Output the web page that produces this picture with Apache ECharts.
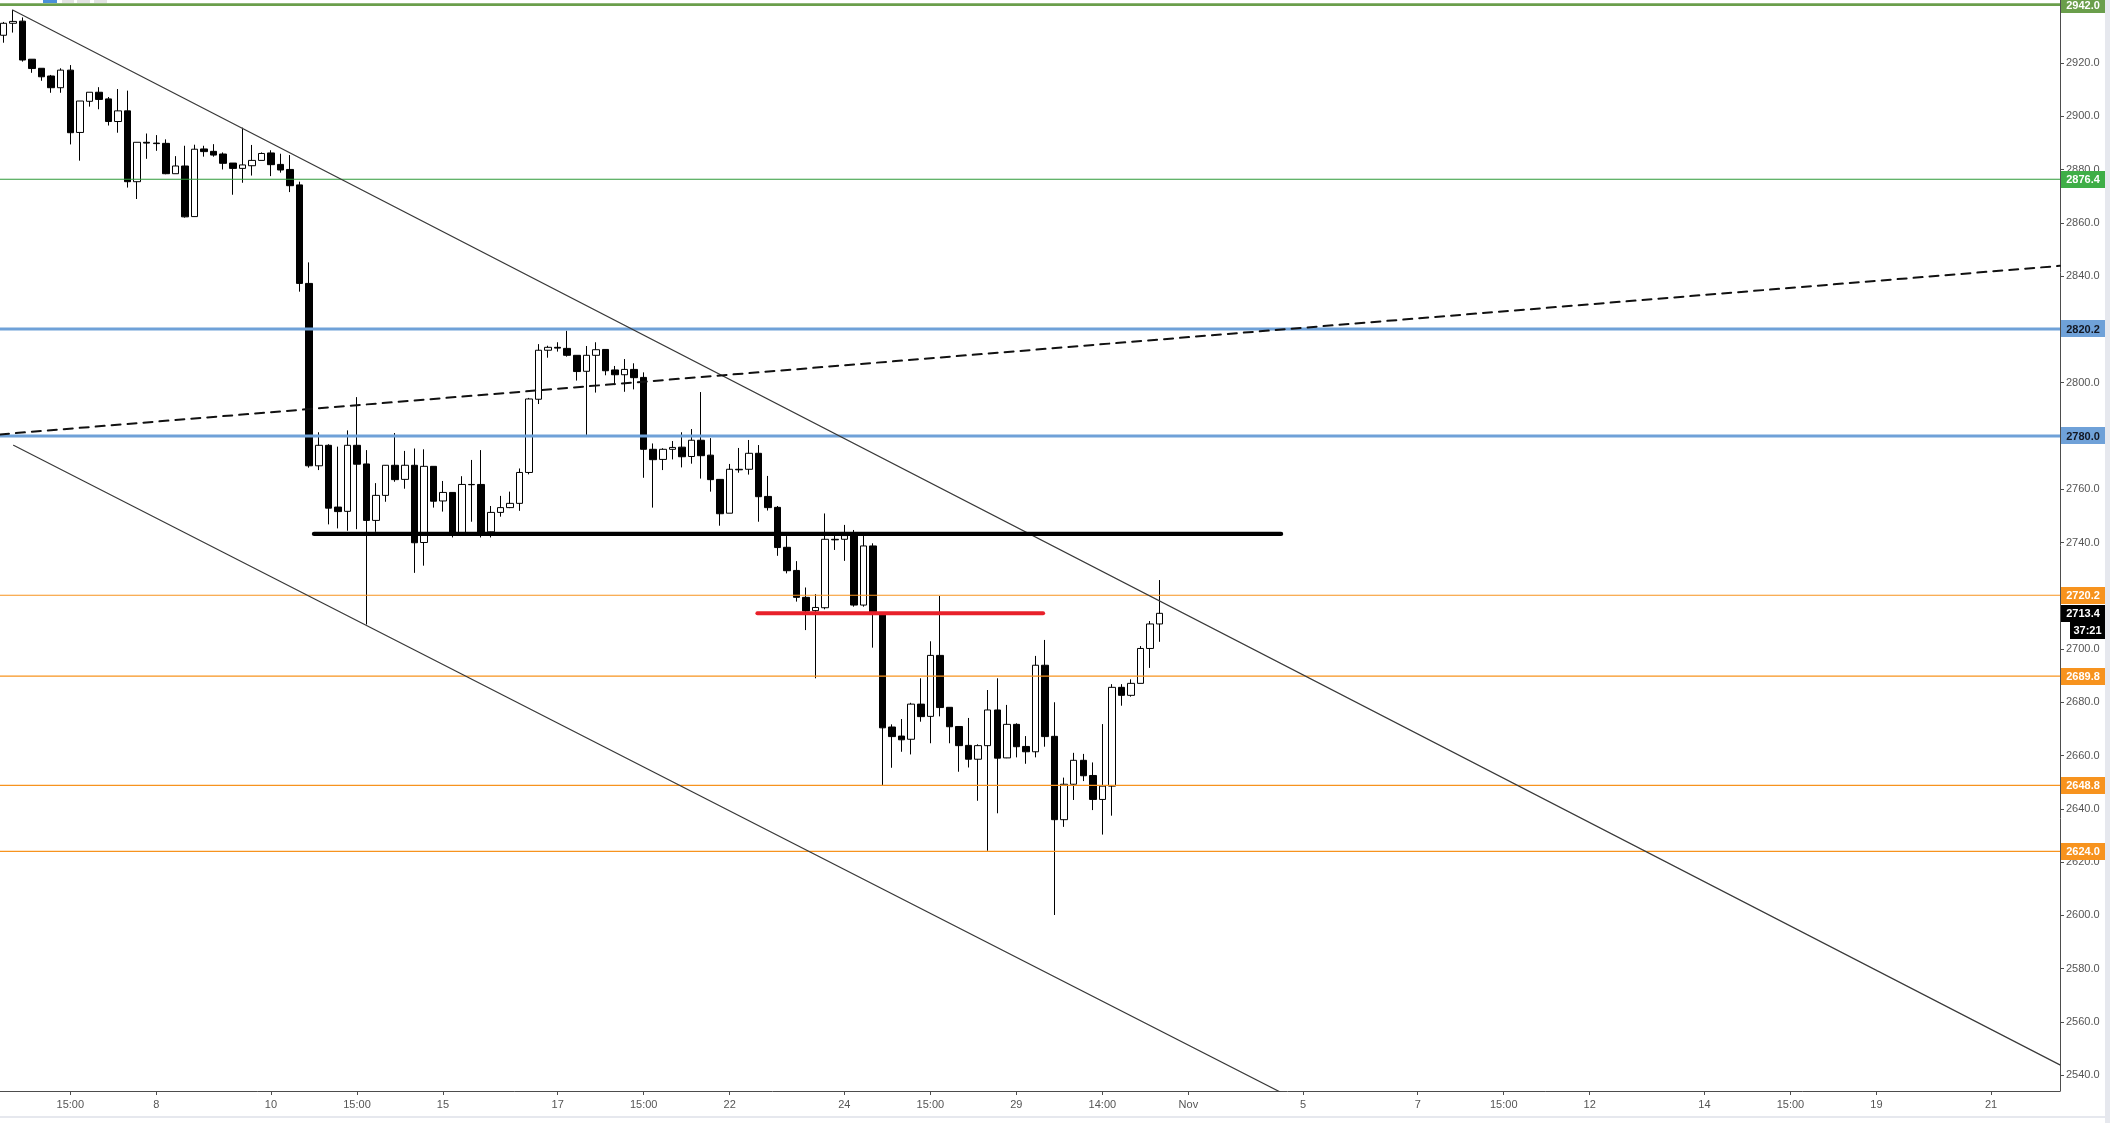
<!DOCTYPE html>
<html><head><meta charset="utf-8">
<script src="https://cdn.jsdelivr.net/npm/echarts@6/dist/echarts.min.js"></script>
<style>html,body{margin:0;padding:0;background:#fff;}#c{width:2110px;height:1123px;}</style>
</head><body><div id="c"></div>
<script>
// 4-hour bars, index 0 = first visible bar (Oct 3)
const opens = [2930.5,2935.0,2935.8,2921.5,2918.1,2915.2,2910.8,2917.4,2894.0,2905.7,
2909.1,2906.6,2898.1,2902.1,2875.5,2890.3,2890.0,2889.9,2878.5,2881.4,
2862.4,2887.8,2886.9,2885.9,2882.5,2880.5,2881.5,2883.5,2886.3,2882.0,
2880.1,2874.3,2837.3,2768.8,2776.5,2753.3,2751.7,2776.5,2769.5,2748.3,
2757.7,2769.0,2763.7,2769.0,2740.0,2768.6,2755.6,2758.8,2743.4,2761.8,
2761.8,2744.0,2751.3,2753.1,2754.7,2766.3,2793.8,2812.2,2813.3,2812.9,
2810.3,2804.3,2810.3,2812.5,2804.8,2803.0,2805.0,2802.0,2775.0,2771.2,
2775.0,2775.8,2772.3,2778.4,2772.8,2763.7,2751.0,2767.5,2767.5,2773.5,
2757.3,2753.2,2738.2,2729.5,2719.4,2714.4,2715.5,2741.2,2741.2,2743.4,
2716.5,2738.7,2713.4,2670.7,2667.3,2666.1,2679.3,2674.7,2697.6,2678.1,
2670.9,2663.8,2658.6,2663.7,2677.1,2659.1,2671.7,2663.4,2661.4,2693.9,
2667.2,2635.9,2649.2,2658.2,2652.5,2643.5,2648.5,2685.6,2682.6,2687.1,
2700.2,2709.4];
const closes = [2935.0,2935.7,2921.2,2918.0,2914.9,2910.8,2917.4,2893.9,2905.8,2909.1,
2906.4,2898.1,2902.1,2875.5,2890.3,2890.0,2889.8,2878.5,2881.4,2862.3,
2887.7,2886.8,2885.5,2882.4,2880.5,2881.8,2883.5,2886.1,2881.9,2879.9,
2874.0,2837.3,2768.8,2776.5,2752.9,2751.6,2776.5,2769.4,2748.3,2757.7,
2769.0,2763.6,2769.0,2739.9,2768.6,2755.5,2758.8,2743.4,2761.8,2761.7,
2743.4,2751.3,2753.1,2754.7,2766.3,2793.9,2812.2,2813.3,2813.0,2810.3,
2804.2,2810.3,2812.4,2804.5,2803.0,2805.0,2801.9,2775.0,2771.1,2775.0,
2775.7,2772.2,2778.4,2772.6,2763.6,2750.8,2767.5,2767.3,2773.5,2757.2,
2753.1,2738.1,2729.4,2719.4,2714.3,2715.6,2741.2,2741.0,2742.6,2716.5,
2738.7,2714.0,2670.4,2667.1,2665.9,2679.3,2674.6,2697.6,2678.0,2670.8,
2663.7,2658.6,2663.7,2677.1,2659.0,2671.7,2663.3,2661.4,2693.9,2667.1,
2635.9,2649.2,2658.2,2652.4,2643.5,2648.5,2685.6,2682.6,2687.1,2700.2,
2709.4,2713.4];
const lows = [2927.7,2931.5,2920.6,2916.4,2913.4,2908.9,2908.9,2889.5,2883.4,2903.7,
2902.7,2896.6,2893.9,2873.3,2869.0,2884.1,2887.1,2878.3,2878.5,2862.0,
2862.4,2884.9,2884.9,2880.1,2870.6,2875.1,2877.8,2883.5,2877.6,2878.9,
2871.6,2834.2,2768.1,2767.2,2746.8,2745.3,2744.4,2745.0,2709.2,2744.0,
2755.3,2762.8,2760.2,2728.6,2731.3,2753.1,2751.6,2741.9,2743.0,2747.8,
2741.9,2741.9,2749.7,2752.9,2751.9,2765.6,2792.0,2809.4,2811.7,2809.8,
2800.8,2780.4,2796.3,2802.8,2799.1,2796.6,2797.5,2764.3,2753.1,2767.2,
2771.2,2768.2,2769.6,2764.0,2759.1,2746.3,2751.0,2766.2,2765.5,2747.8,
2752.0,2735.0,2728.4,2717.8,2707.1,2689.0,2714.9,2737.2,2733.1,2715.9,
2715.9,2700.5,2648.9,2655.4,2661.4,2660.4,2672.7,2664.6,2674.7,2664.6,
2653.9,2655.5,2643.0,2624.2,2638.3,2659.0,2659.3,2656.9,2659.3,2663.3,
2600.1,2633.2,2643.3,2650.4,2639.5,2630.3,2637.4,2678.7,2682.1,2687.1,
2692.9,2702.7];
const highs = [2935.5,2940.0,2937.2,2921.5,2918.1,2915.6,2918.1,2919.3,2905.8,2909.1,
2911.0,2907.3,2910.3,2909.7,2890.3,2893.6,2893.0,2891.4,2885.1,2889.0,
2889.4,2889.0,2889.6,2886.5,2882.5,2895.8,2889.3,2886.5,2887.3,2886.0,
2885.5,2875.5,2845.2,2781.4,2776.9,2776.0,2782.1,2794.6,2774.7,2762.3,
2769.1,2781.1,2774.4,2775.3,2775.0,2768.6,2763.1,2758.8,2764.9,2771.0,
2774.7,2753.7,2757.5,2759.1,2767.8,2794.3,2814.5,2813.9,2815.2,2819.5,
2810.3,2813.8,2815.2,2812.5,2806.3,2808.9,2807.3,2803.9,2777.2,2775.4,
2778.1,2781.4,2782.6,2796.5,2779.2,2763.7,2769.5,2775.5,2778.5,2776.6,
2765.0,2753.7,2742.4,2733.0,2723.1,2720.6,2750.9,2743.5,2746.6,2744.7,
2742.8,2739.7,2713.4,2671.7,2673.7,2679.8,2689.0,2702.9,2719.9,2678.1,
2670.9,2674.1,2664.2,2684.6,2689.0,2679.0,2672.1,2667.3,2697.4,2703.4,
2680.0,2651.7,2661.0,2660.6,2657.4,2671.8,2686.8,2686.8,2688.6,2701.1,
2710.5,2725.9];

const tickBars = [7,16,28,37,46,58,67,76,88,97,106,115,124,136,148,157,166,178,187,196,208];
const tickLabels = ['15:00','8','10','15:00','15','17','15:00','22','24','15:00','29','14:00','Nov','5','7','15:00','12','14','15:00','19','21'];
const priceTicks = [2540,2560,2580,2600,2620,2640,2660,2680,2700,2720,2740,2760,2780,2800,2820,2840,2860,2880,2900,2920,2940];

const levelValues = [2942.0, 2876.4, 2820.2, 2780.0, 2720.2, 2689.8, 2648.8, 2624.0];
const levelColors = ['#6a9e4b','#2f9a3a','#6fa1d8','#6fa1d8','#f7931e','#f7931e','#f7931e','#f7931e'];
const levelBoxColors = ['#6a9e4b','#3fae47','#6fa1d8','#6fa1d8','#f7931e','#f7931e','#f7931e','#f7931e'];
const levelTextColors = ['#ffffff','#ffffff','#131722','#131722','#ffffff','#ffffff','#ffffff','#ffffff'];
const levelWidths = [2.6, 1.1, 3, 3, 1.1, 1.1, 1.1, 1.1];

const trendUpper = [[0.97, 2940.0], [215.2, 2543.8]];
const channelLower = [[1.06, 2776.5], [134.6, 2531.8]];
const dashedTrend = [[-0.36, 2780.6], [215.2, 2843.9]];
const supportSegment = [[32.5, 2743.2], [133.7, 2743.2]];
const redSegment = [[78.9, 2713.4], [108.8, 2713.4]];
const lastPrice = 2713.4;
const countdown = '37:21';

const X_MIN = -0.356, X_MAX = 215.21, Y_MIN = 2534.0, Y_MAX = 2943.74;

const chart = echarts.init(document.getElementById('c'));
const candleData = opens.map((o, i) => [i, o, closes[i], lows[i], highs[i]]);
function seg(data, color, width, type, z) {
  return {type: 'line', data: data, symbol: 'none', silent: true, animation: false, clip: true,
    lineStyle: {color: color, width: width, type: type || 'solid', cap: 'round'}, z: z || 5};
}
const series = [{
  type: 'candlestick', data: candleData, encode: {x: 0, y: [1, 2, 3, 4]},
  barWidth: 7, animation: false, z: 2,
  itemStyle: {color: '#ffffff', color0: '#000000', borderColor: '#000000', borderColor0: '#000000', borderWidth: 1}
}];
levelValues.forEach((v, i) => {
  const s = seg([[X_MIN, v], [X_MAX, v]], levelColors[i], levelWidths[i], 'solid', 3);
  s.lineStyle.cap = 'butt';
  series.push(s);
});
series.push(seg(trendUpper, '#3a3a3a', 1.2, 'solid', 4));
series.push(seg(channelLower, '#3a3a3a', 1.2, 'solid', 4));
series.push(seg(dashedTrend, '#111111', 2, [9, 7], 4));
series.push(seg(supportSegment, '#000000', 4.3, 'solid', 6));
series.push(seg(redSegment, '#e8202a', 4, 'solid', 6));

const labelFont = '"Liberation Sans", Arial, sans-serif';
chart.setOption({
  backgroundColor: '#ffffff',
  animation: false,
  grid: {left: 0, right: 50, top: 0, bottom: 32},
  xAxis: {
    type: 'value', min: X_MIN, max: X_MAX,
    axisLine: {onZero: false, lineStyle: {color: '#4d4d4d', width: 1}},
    axisTick: {show: true, length: 4, lineStyle: {color: '#4d4d4d'}, customValues: tickBars},
    axisLabel: {customValues: tickBars, margin: 8, color: '#555555', fontSize: 11, fontFamily: labelFont,
      formatter: (v) => { const k = tickBars.indexOf(Math.round(v)); return k >= 0 ? tickLabels[k] : ''; }},
    splitLine: {show: false}
  },
  yAxis: {
    type: 'value', position: 'right', min: Y_MIN, max: Y_MAX, scale: true,
    axisLine: {show: true, onZero: false, lineStyle: {color: '#4d4d4d', width: 1}},
    axisTick: {show: true, length: 4, lineStyle: {color: '#4d4d4d'}, customValues: priceTicks},
    axisLabel: {customValues: priceTicks, margin: 6, color: '#555555', fontSize: 11, fontFamily: labelFont,
      formatter: (v) => v.toFixed(1)},
    splitLine: {show: false}
  },
  series: series
});

// Price labels on the right axis, placed through the chart's own y scale
const gx = 2061, gw = 44, gh = 17;
const graphics = [];
function priceBox(value, text, bg, fg, x, w) {
  const y = chart.convertToPixel({yAxisIndex: 0}, value);
  graphics.push({type: 'rect', z: 100, shape: {x: x, y: Math.round(y - gh / 2), width: w, height: gh}, style: {fill: bg}});
  graphics.push({type: 'text', z: 101, x: x + w / 2, y: Math.round(y) + 0.5,
    style: {text: text, fill: fg, font: 'bold 11px ' + labelFont, align: 'center', verticalAlign: 'middle'}});
}
levelValues.forEach((v, i) => priceBox(v, v.toFixed(1), levelBoxColors[i], levelTextColors[i], gx, gw));
priceBox(lastPrice, lastPrice.toFixed(1), '#000000', '#ffffff', gx, gw);
const yl = chart.convertToPixel({yAxisIndex: 0}, lastPrice);
graphics.push({type: 'rect', z: 100, shape: {x: 2070, y: Math.round(yl + gh / 2), width: 35, height: gh}, style: {fill: '#000000'}});
graphics.push({type: 'text', z: 101, x: 2087.5, y: Math.round(yl + gh) + 0.5,
  style: {text: countdown, fill: '#ffffff', font: 'bold 11px ' + labelFont, align: 'center', verticalAlign: 'middle'}});
// window chrome: scrollbar strip, bottom separator, toolbar remnants
graphics.push({type: 'rect', z: 90, shape: {x: 2105, y: 0, width: 5, height: 1123}, style: {fill: '#e6e8ee'}});
graphics.push({type: 'rect', z: 90, shape: {x: 0, y: 1116, width: 2105, height: 2}, style: {fill: '#e6e8ee'}});
graphics.push({type: 'rect', z: 90, shape: {x: 43, y: 0, width: 14, height: 3}, style: {fill: '#4a90d9'}});
graphics.push({type: 'rect', z: 90, shape: {x: 62, y: 0, width: 12, height: 3}, style: {fill: '#e3e3e3'}});
graphics.push({type: 'rect', z: 90, shape: {x: 77, y: 0, width: 13, height: 3}, style: {fill: '#e3e3e3'}});
graphics.push({type: 'rect', z: 90, shape: {x: 94, y: 0, width: 13, height: 3}, style: {fill: '#e3e3e3'}});
chart.setOption({graphic: graphics});
</script></body></html>
